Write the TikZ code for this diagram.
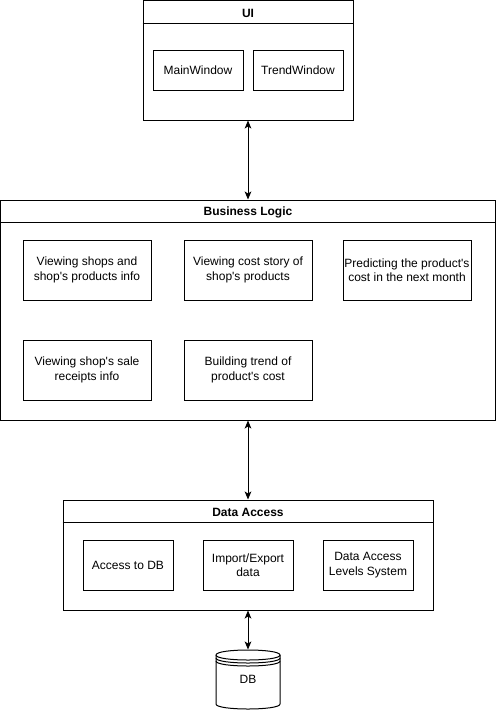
\documentclass[tikz,border=0pt]{standalone}
\usepackage{fontspec}
\setmainfont{Liberation Sans}
\usetikzlibrary{arrows.meta}
\newcommand\aq{\textquotesingle}
\begin{document}
\begin{tikzpicture}[x=0.75pt,y=-0.75pt,line width=0.75pt,
  txt/.style={font=\fontsize{9}{10.8}\selectfont,align=center,inner sep=0pt},
  rbox/.style 2 args={draw,txt,minimum width=#1*0.75pt,minimum height=#2*0.75pt},
  title/.style={font=\fontsize{9}{10.8}\selectfont\bfseries,inner sep=0pt},
  arr/.style={{Stealth[length=6pt,width=5pt,inset=1.5pt]}-{Stealth[length=6pt,width=5pt,inset=1.5pt]}}]
\useasboundingbox (0,0) rectangle (496,711);
% UI
\node[rbox={210}{119.5}] (ui) at (248,60.25) {};
\draw ([yshift=-17.6pt]ui.north west) -- ([yshift=-17.6pt]ui.north east);
\node[title] (uit) at (248,13) {UI};
\node[rbox={90}{40}] (mw) at (198,70.5) {MainWindow};
\node[rbox={90}{40}] (tw) at (298,70.5) {TrendWindow};
% Business Logic
\node[rbox={494.5}{220}] (bl) at (248,310) {};
\draw ([yshift=-17.25pt]bl.north west) -- ([yshift=-17.25pt]bl.north east);
\node[title] (blt) at (248,212.5) {Business Logic};
\node[rbox={128}{60}] (b1) at (87,270) {Viewing shops and\\shop\aq s products info};
\node[rbox={128}{60}] (b2) at (248,270) {Viewing cost story of\\shop\aq s products};
\node[rbox={128}{60}] (b3) at (407,270) {Predicting the product\aq s\\cost in the next month};
\node[rbox={128}{60}] (b4) at (87,370) {Viewing shop\aq s sale\\receipts info};
\node[rbox={128}{60}] (b5) at (248,370) {Building trend of\\product\aq s cost};
% Data Access
\node[rbox={370}{110}] (da) at (248,555) {};
\draw ([yshift=-17.25pt]da.north west) -- ([yshift=-17.25pt]da.north east);
\node[title] (dat) at (248,512.5) {Data Access};
\node[rbox={90}{50}] (d1) at (128,565) {Access to DB};
\node[rbox={90}{50}] (d2) at (248,565) {Import/Export\\data};
\node[rbox={90}{50}] (d3) at (368,565) {Data Access\\Levels System};
% DB
\node[txt,minimum width=64*0.75pt,minimum height=58*0.75pt] (db) at (248,679) {DB};
\draw (216,655) .. controls (216,648.33) and (280,648.33) .. (280,655)
  -- (280,704) .. controls (280,710.67) and (216,710.67) .. (216,704) -- cycle;
\draw (216,655) .. controls (216,661.67) and (280,661.67) .. (280,655);
\draw (216,658) .. controls (216,664.67) and (280,664.67) .. (280,658);
\draw (216,661) .. controls (216,667.67) and (280,667.67) .. (280,661);
% connectors
\draw[arr] (ui.south) -- (bl.north);
\draw[arr] (bl.south) -- (da.north);
\draw[arr] (da.south) -- (db.north);
\end{tikzpicture}
\end{document}
